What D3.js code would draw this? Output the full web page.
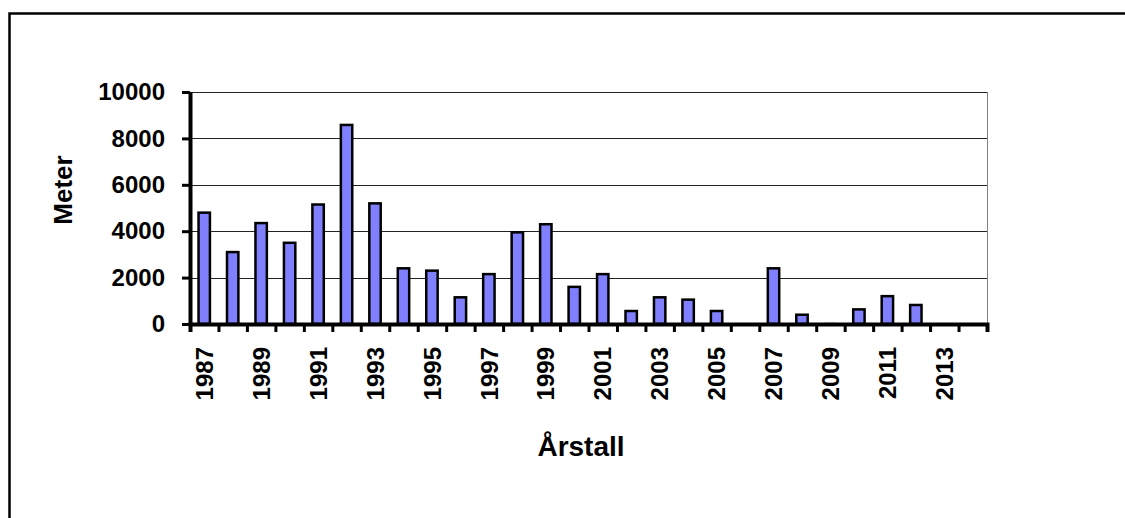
<!DOCTYPE html>
<html>
<head>
<meta charset="utf-8">
<script src="https://cdn.jsdelivr.net/npm/d3@7"></script>
<style>
  body { margin: 0; background: #fff; }
  svg text { font-family: "Liberation Sans", Arial, sans-serif; font-weight: bold; fill: #000; }
</style>
</head>
<body>
<script>
// years on the x axis
const years = [1987, 1988, 1989, 1990, 1991, 1992, 1993, 1994, 1995, 1996,
  1997, 1998, 1999, 2000, 2001, 2002, 2003, 2004, 2005, 2006,
  2007, 2008, 2009, 2010, 2011, 2012, 2013, 2014];

// meters per year
const meters = [4800, 3100, 4350, 3500, 5150, 8580, 5200, 2400, 2300, 1150,
  2150, 3950, 4300, 1600, 2150, 560, 1150, 1050, 560, 0,
  2400, 400, 40, 630, 1200, 820, 0, 0];

// only every other year gets a label
const yearLabels = [1987, 1989, 1991, 1993, 1995, 1997, 1999, 2001, 2003, 2005, 2007, 2009, 2011, 2013];
const yTicks = [0, 2000, 4000, 6000, 8000, 10000];

const data = years.map((y, i) => ({ year: y, value: meters[i] }));

const width = 1125;
const height = 518;
const plotL = 190, plotR = 987, plotT = 92, plotB = 324;

const svg = d3.select('body')
  .append('svg')
  .attr('width', width)
  .attr('height', height);

// outer frame (runs off the right and bottom edge)
svg.append('rect')
  .attr('x', 9.5)
  .attr('y', 13.5)
  .attr('width', 1300)
  .attr('height', 700)
  .attr('fill', 'none')
  .attr('stroke', '#000')
  .attr('stroke-width', 2.5);

const x = d3.scaleBand()
  .domain(years)
  .range([plotL, plotR])
  .paddingInner(0.6)
  .paddingOuter(0.3);

// category boundaries for the tick marks
const xEdge = d3.scaleLinear()
  .domain([0, years.length])
  .range([plotL, plotR]);

const y = d3.scaleLinear()
  .domain([0, 10000])
  .range([plotB, plotT]);

// gridlines
svg.append('g')
  .selectAll('line')
  .data(yTicks.filter(d => d > 0))
  .join('line')
  .attr('x1', plotL)
  .attr('x2', plotR)
  .attr('y1', d => Math.round(y(d)) + 0.5)
  .attr('y2', d => Math.round(y(d)) + 0.5)
  .attr('stroke', '#222')
  .attr('stroke-width', 1);

// right edge of plot area
svg.append('line')
  .attr('x1', plotR + 0.5)
  .attr('x2', plotR + 0.5)
  .attr('y1', plotT)
  .attr('y2', plotB)
  .attr('stroke', '#808080')
  .attr('stroke-width', 1);

// bars
svg.append('g')
  .selectAll('rect')
  .data(data)
  .join('rect')
  .attr('x', d => x(d.year))
  .attr('y', d => y(d.value))
  .attr('width', x.bandwidth())
  .attr('height', d => plotB - y(d.value))
  .attr('fill', '#8080ff')
  .attr('stroke', d => d.value > 100 ? '#000' : '#aaa')
  .attr('stroke-width', d => d.value > 100 ? 2.5 : 1);

// x axis: tick marks at category edges
const xAxis = svg.append('g')
  .attr('transform', `translate(0,${plotB})`)
  .call(d3.axisBottom(xEdge)
    .tickValues(d3.range(0, years.length + 1))
    .tickSize(8)
    .tickFormat(''));
xAxis.select('.domain').attr('stroke-width', 4);
xAxis.selectAll('.tick line').attr('stroke-width', 3);

// x labels, rotated
const xLab = svg.append('g')
  .attr('transform', `translate(0,${plotB})`)
  .call(d3.axisBottom(x).tickValues(yearLabels).tickSize(0));
xLab.select('.domain').remove();
xLab.selectAll('text')
  .attr('font-size', 24)
  .attr('text-anchor', 'end')
  .attr('transform', 'rotate(-90)')
  .attr('x', -23)
  .attr('y', 0)
  .attr('dy', '0.36em');

// y axis
const yAxis = svg.append('g')
  .attr('transform', `translate(${plotL},0)`)
  .call(d3.axisLeft(y)
    .tickValues(yTicks)
    .tickFormat(d3.format('d'))
    .tickSize(8)
    .tickPadding(17)
    .tickSizeOuter(0));
yAxis.select('.domain').attr('stroke-width', 4);
yAxis.selectAll('.tick line').attr('stroke-width', 3);
yAxis.selectAll('text').attr('font-size', 24);

// axis titles
svg.append('text')
  .attr('transform', 'translate(63,190) rotate(-90)')
  .attr('text-anchor', 'middle')
  .attr('dy', '0.36em')
  .attr('font-size', 26)
  .text('Meter');

svg.append('text')
  .attr('x', 581)
  .attr('y', 456)
  .attr('text-anchor', 'middle')
  .attr('font-size', 28)
  .text('Årstall');
</script>
</body>
</html>
